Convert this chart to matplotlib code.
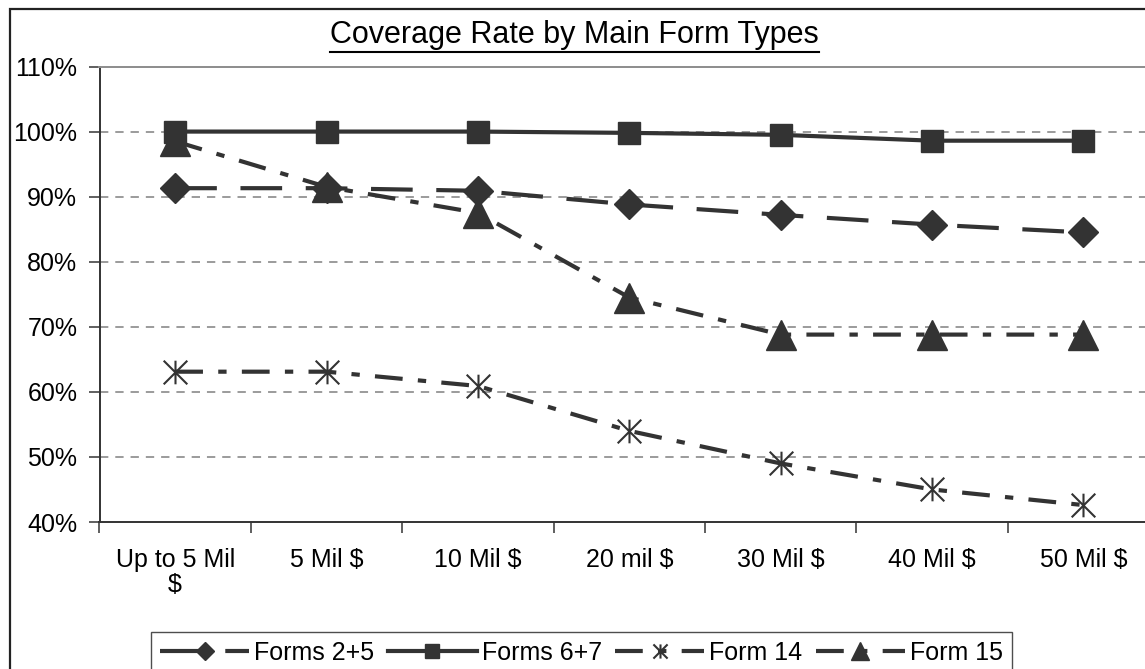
import matplotlib
matplotlib.use("Agg")
import matplotlib.pyplot as plt
from matplotlib.path import Path
from matplotlib.patches import Rectangle
from matplotlib.lines import Line2D
from matplotlib.ticker import FixedLocator, PercentFormatter

plt.rcParams['font.family'] = ['Liberation Sans', 'DejaVu Sans']
plt.rcParams['lines.scale_dashes'] = False

categories = ['Up to 5 Mil\n$', '5 Mil $', '10 Mil $', '20 mil $', '30 Mil $', '40 Mil $', '50 Mil $']
forms_2_5 = [91.3, 91.3, 90.9, 88.8, 87.2, 85.7, 84.5]
forms_6_7 = [100.0, 100.0, 100.0, 99.8, 99.5, 98.6, 98.6]
form_14 = [63.1, 63.1, 60.9, 54.0, 49.0, 45.0, 42.6]
form_15 = [98.5, 91.5, 87.5, 74.5, 68.8, 68.8, 68.8]

ink = '#333333'

# asterisk-style marker: vertical bar plus an X
star = Path([(0, -1), (0, 1), (-1, -1), (1, 1), (-1, 1), (1, -1)],
            [Path.MOVETO, Path.LINETO, Path.MOVETO, Path.LINETO, Path.MOVETO, Path.LINETO])

W, H = 1145, 669
fig = plt.figure(figsize=(W / 100, H / 100), dpi=100)
ax = fig.add_axes([99.5 / W, 1 - 522 / H, 1059.6 / W, 455.5 / H])

x = list(range(len(categories)))
ax.plot(x, forms_2_5, color=ink, lw=3, dashes=[30, 17], marker='D', ms=15,
        mfc=ink, mec=ink, label='Forms 2+5')
ax.plot(x, forms_6_7, color=ink, lw=3, marker='s', ms=16.5,
        mfc=ink, mec=ink, label='Forms 6+7')
ax.plot(x, form_14, color=ink, lw=3, dashes=[20, 11, 6, 11], marker=star, ms=17,
        mfc='none', mec=ink, mew=1.5, label='Form 14')
ax.plot(x, form_15, color=ink, lw=3, dashes=[20, 11, 6, 11], marker='^', ms=21,
        mfc=ink, mec=ink, label='Form 15')

ax.set_xlim(-0.5, len(categories) - 0.5)
ax.set_ylim(40, 110)
ax.set_yticks(range(40, 111, 10))
ax.yaxis.set_major_formatter(PercentFormatter(decimals=0))
ax.set_xticks(x)
ax.set_xticklabels(categories, fontsize=18, linespacing=1.05)
ax.xaxis.set_minor_locator(FixedLocator([i - 0.5 for i in range(len(categories) + 1)]))
ax.tick_params(axis='x', which='major', length=0, pad=19)
ax.tick_params(axis='x', which='minor', length=8, width=1.2, color='#444444', direction='out')
ax.tick_params(axis='y', length=8, width=1.2, color='#444444', labelsize=18, pad=8)

for yv in range(50, 101, 10):
    ax.axhline(yv, color='#808080', lw=1.1, dashes=[6, 5], zorder=0)

for side in ('left', 'bottom'):
    ax.spines[side].set_color('#333333')
    ax.spines[side].set_linewidth(1.4)
ax.spines['top'].set_color('#8c8c8c')
ax.spines['top'].set_linewidth(1.4)
ax.spines['right'].set_color('#8c8c8c')
ax.spines['right'].set_linewidth(1.4)

# outer chart border
fig.add_artist(Rectangle((10 / W, -0.05), 1.1, 1 - 9 / H + 0.05, transform=fig.transFigure,
                         fill=False, ec='#222222', lw=1.6, clip_on=False))

title = fig.text(0.502, 1 - 35 / H, 'Coverage Rate by Main Form Types', fontsize=22,
                 ha='center', va='center')

leg = fig.legend(loc='upper center', bbox_to_anchor=(581.5 / W, 1 - 632 / H), ncol=4,
                 fontsize=18, frameon=True, fancybox=False, edgecolor='#222222',
                 handlelength=3.55, handletextpad=0.2, columnspacing=0.55,
                 borderpad=0.35, borderaxespad=0, markerscale=0.6, numpoints=1)
leg.get_frame().set_linewidth(1.0)

# underline the title
fig.canvas.draw()
bb = title.get_window_extent()
fig.add_artist(Line2D([bb.x0 / W, bb.x1 / W], [(bb.y0 - 2) / H, (bb.y0 - 2) / H],
                      transform=fig.transFigure, color='black', lw=1.5))

fig.savefig('out.png', dpi=100)
